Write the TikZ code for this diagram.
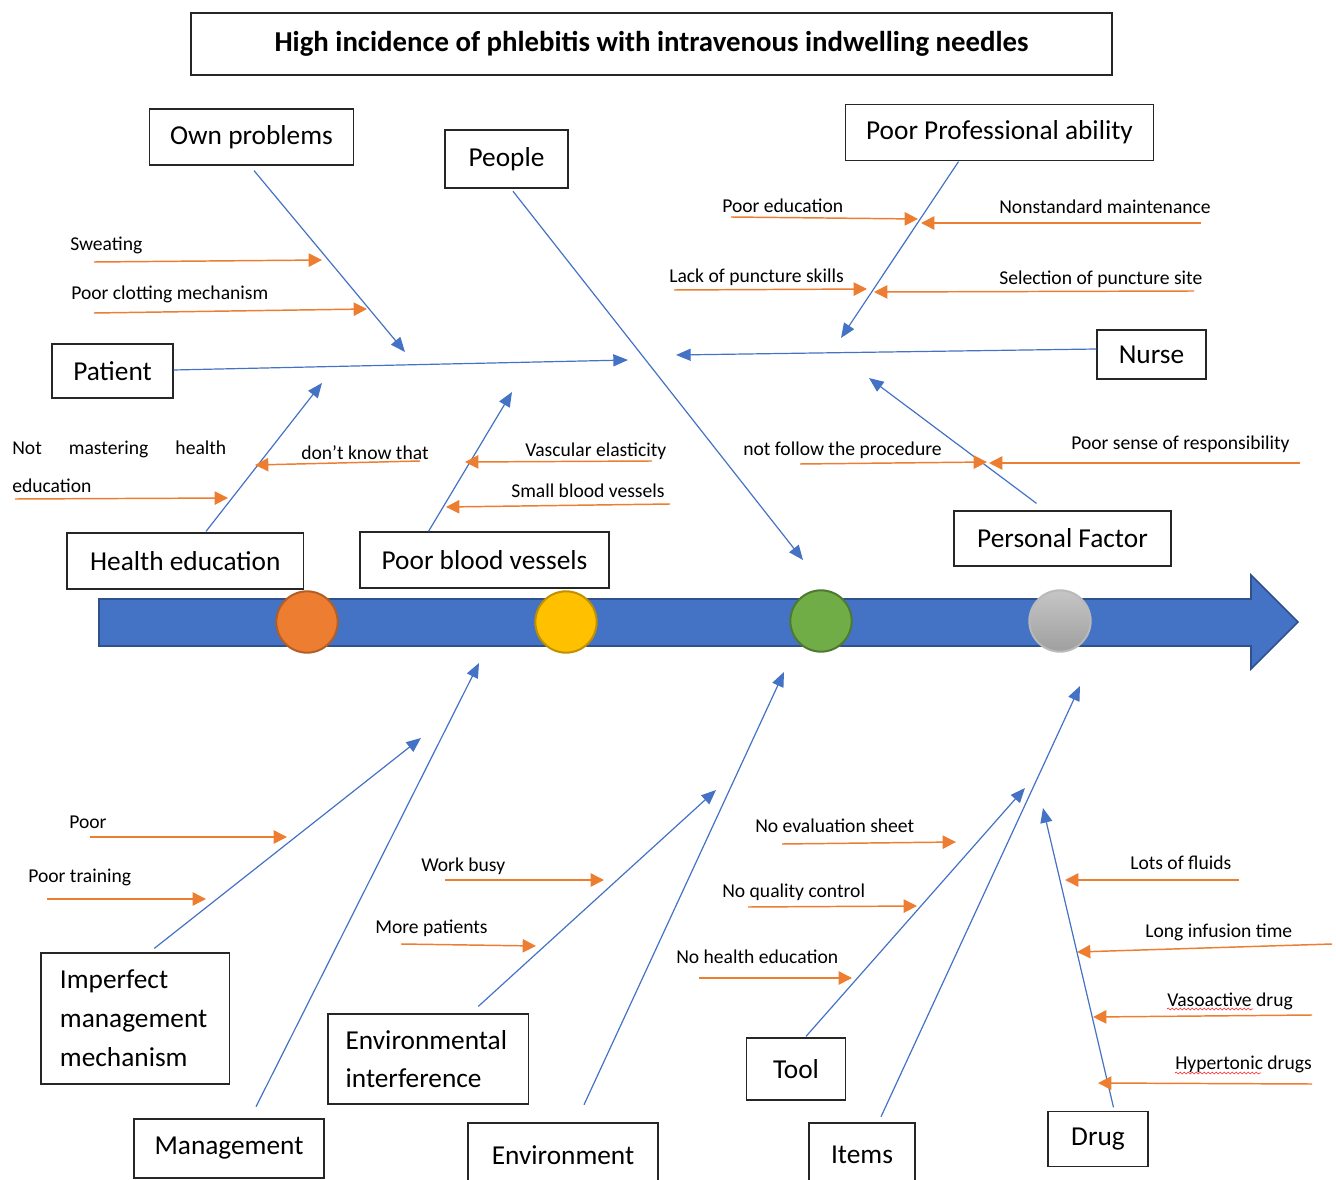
\documentclass[tikz,border=0pt]{standalone}
\usepackage{fontspec}
\setmainfont{Carlito}
\usetikzlibrary{calc,arrows.meta,decorations.pathmorphing}
\definecolor{spineblue}{RGB}{68,114,196}
\definecolor{spineedge}{RGB}{47,82,143}
\definecolor{twigorange}{RGB}{237,125,49}
\definecolor{dotorange}{RGB}{237,125,49}
\definecolor{dotyellow}{RGB}{255,192,0}
\definecolor{dotgreen}{RGB}{112,173,71}
\tikzset{
  cat-box/.style={
    draw=black!85,
    line width=0.9pt,
    inner sep=2pt,
    font=\fontsize{20.5}{25}\selectfont
  },
  cat-box-thick/.style={cat-box, line width=1.9pt},
  cause/.style={inner sep=0pt, anchor=base west, font=\fontsize{14.7}{17}\selectfont},
  bone/.style={draw=spineblue, line width=0.9pt, -{Triangle[length=11pt,width=9pt]}},
  twig/.style={draw=twigorange, line width=1.1pt, -{Triangle[length=10pt,width=10pt]}},
  dot/.style={circle, minimum size=46pt, inner sep=0pt, line width=1.5pt},
  spell/.style={draw=red!80, line width=0.5pt, decorate,
    decoration={snake, amplitude=0.7pt, segment length=3pt}}
}

\begin{document}
\begin{tikzpicture}[x=0.75pt, y=-0.75pt]
  \useasboundingbox (0,0) rectangle (1336,1180);

  % title
  \node[cat-box, minimum width=690.75pt, minimum height=46.5pt,
        font=\bfseries\fontsize{21.6}{26}\selectfont] (title) at (651.5,44)
        {High incidence of phlebitis with intravenous indwelling needles};

  % spine
  \draw[fill=spineblue, draw=spineedge, line width=1.2pt]
    (99,599) -- (1251,599) -- (1251,575) -- (1298,622) -- (1251,669)
    -- (1251,646) -- (99,646) -- cycle;
  \node[dot, fill=dotorange, draw=dotorange!75!black] (dot1) at (307,622) {};
  \node[dot, fill=dotyellow, draw=dotyellow!75!black] (dot2) at (566,622) {};
  \node[dot, fill=dotgreen, draw=dotgreen!70!black] (dot3) at (821,621) {};
  \node[dot, top color=gray!45, bottom color=gray!75, draw=gray!55] (dot4) at (1060,621) {};

  % categories
  \node[cat-box, minimum width=153pt, minimum height=42pt] (own) at (251.5,137) {Own problems};
  \node[cat-box-thick, minimum width=92.25pt, minimum height=43.5pt] (people) at (506.5,159) {People};
  \node[cat-box, minimum width=231pt, minimum height=42pt] (prof) at (999.5,132.5) {Poor Professional ability};
  \node[cat-box, minimum width=90.75pt, minimum height=40.5pt] (patient) at (112.5,371) {Patient};
  \node[cat-box, minimum width=81.75pt, minimum height=36.75pt] (nurse) at (1151.5,354.5) {Nurse};
  \node[cat-box, minimum width=177.5pt, minimum height=42pt] (health) at (185.3,561) {Health education};
  \node[cat-box, minimum width=186.75pt, minimum height=42pt] (vessels) at (484.5,560) {Poor blood vessels};
  \node[cat-box, minimum width=162.75pt, minimum height=41.25pt] (personal) at (1062.5,538.5) {Personal Factor};
  \node[cat-box, minimum width=141.5pt, minimum height=98.25pt, text width=113pt, align=left,
        font=\fontsize{20.5}{29.25}\selectfont] (imperfect) at (135.3,1018.5)
        {Imperfect\\management\\mechanism};
  \node[cat-box-thick, minimum width=142.5pt, minimum height=44.25pt] (management) at (229,1148.5) {Management};
  \node[cat-box, minimum width=150.5pt, minimum height=67.5pt, text width=124pt, align=left,
        font=\fontsize{20.5}{28.75}\selectfont] (envint) at (428.3,1059)
        {Environmental\\interference};
  \node[cat-box-thick, minimum width=142.5pt, minimum height=48pt] (environment) at (563,1155) {Environment};
  \node[cat-box, minimum width=74.25pt, minimum height=46.5pt] (tool) at (796,1069) {Tool};
  \node[cat-box-thick, minimum width=79.5pt, minimum height=48pt] (items) at (862,1155) {Items};
  \node[cat-box, minimum width=75pt, minimum height=41.25pt] (drug) at (1098,1139) {Drug};

  % bones
  \foreach \b/\a/\dx/\dy/\tx/\ty in {
      own/south/2.5/5/405/352, people/south/6.5/2/803/560,
      prof/south/-41/0.5/841/338, patient/east/0/-1/628/360,
      nurse/west/0/-5.5/676/355, health/north/20.7/-1/322/383,
      vessels/north/-56/0/512/392, personal/north/-26/-7/869/378,
      imperfect/north/19/-4/421/738, management/north/27/-11/479/663,
      envint/north/50/-7/716/790, environment/north/21/-17/784/672,
      tool/north/10/-1/1025/788, items/north/19/-5/1080/686,
      drug/north/15.5/-3.5/1043/808} {
    \coordinate (\b-tip) at (\tx,\ty);
    \draw[bone] ($(\b.\a)+(\dx,\dy)$) -- (\b-tip);
  }

  % causes
  \foreach \n/\t/\tx/\ty/\sx/\sy/\ex/\ey in {
      sweat/Sweating/70/251/94/262/322/260,
      clot/Poor clotting mechanism/71/300/94/313/367/309,
      pedu/Poor education/722/213/731/217/918/219,
      nonstd/Nonstandard maintenance/999/214/1201/223/921/223,
      lack/Lack of puncture skills/669/283/674/290/867/289,
      sel/Selection of puncture site/999/285/1194/291/874/292,
      know/don't know that/301/460/420/461/255/465,
      vasc/Vascular elasticity/525/457/652/461/465/462,
      small/Small blood vessels/511/498/670/504/446/507,
      follow/not follow the procedure/743/456/800/464/987/462,
      resp/Poor sense of responsibility/1071/450/1300/463/989/463,
      poor/Poor/69/828/90/837/287/837,
      train/Poor training/28/882/47/899/206/899,
      busy/Work busy/421/871/445/880/604/880,
      morep/More patients/375/933/401/944/536/946,
      evals/No evaluation sheet/755/832/782/844/956/842,
      qual/No quality control/722/897/748/907/917/906,
      nohe/No health education/676/963/699/978/852/978,
      fluid/Lots of fluids/1130/869/1239/880/1065/880,
      longi/Long infusion time/1145/937/1332/944/1077/952,
      vaso/Vasoactive drug/1167/1006/1312/1015/1093/1017,
      hyper/Hypertonic drugs/1175/1069/1312/1084/1098/1083} {
    \node[cause] (\n) at (\tx,\ty) {\t};
    \coordinate (\n-s) at (\sx,\sy);
    \coordinate (\n-e) at (\ex,\ey);
    \draw[twig] (\n-s) -- (\n-e);
  }
  \node[cause, align=left, font=\fontsize{14.7}{29}\selectfont] (notm) at (12,493)
    {\makebox[160.5pt][s]{Not mastering health}\\education};
  \coordinate (notm-s) at (15,499);
  \coordinate (notm-e) at (228,498);
  \draw[twig] (notm-s) -- (notm-e);

  % spell marks
  \draw[spell] ($(vaso.base west)+(0,3)$) -- ++(86,0);
  \draw[spell] ($(hyper.base west)+(0,4)$) -- ++(86,0);
\end{tikzpicture}
\end{document}
